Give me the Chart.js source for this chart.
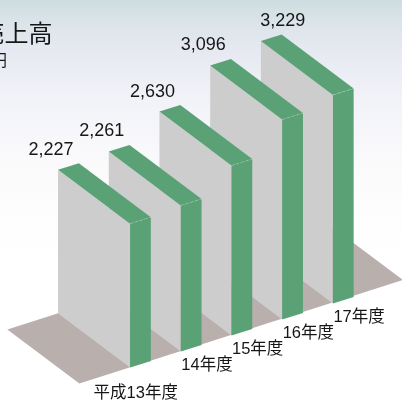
<!DOCTYPE html>
<html>
<head>
<meta charset="utf-8">
<style>
  html, body { margin: 0; padding: 0; width: 402px; height: 400px; overflow: hidden;
    background: linear-gradient(to bottom, #cddde0 0px, #dbe4e9 22px, #e6e9f1 50px, #f1f2f8 95px, #f9f9fb 150px, #fdfdfd 205px, #ffffff 260px); }
  canvas { display: block; }
</style>
<script src="https://cdn.jsdelivr.net/npm/chart.js@4"></script>
</head>
<body>
<canvas id="c" width="402" height="400"></canvas>
<script>
const categories = ['平成13年度', '14年度', '15年度', '16年度', '17年度'];
const sales = [2227, 2261, 2630, 3096, 3229];
const valueLabels = ['2,227', '2,261', '2,630', '3,096', '3,229'];
const titleText = '売上高';
const unitText = '億円';

const GREEN = '#5aa176';
const SIDE = '#cecdcd';
const FLOOR = '#b9afad';
const INK = '#161616';
const LATIN = '"Liberation Sans", "Noto Sans CJK JP", sans-serif';

// Oblique projection: a wall runs back by DEPTH, and each category also
// climbs by RISE pixels along the floor.
const DEPTH = { x: -72, y: -54 };
const RISE = 16;
const WIDTH_RISE = 6.5;

function poly(ctx, pts, fill) {
  ctx.beginPath();
  pts.forEach((p, i) => i ? ctx.lineTo(p.x, p.y) : ctx.moveTo(p.x, p.y));
  ctx.closePath();
  ctx.fillStyle = fill;
  ctx.fill();
}

class Wall3DController extends Chart.BarController {
  draw() {
    const ctx = this.chart.ctx;
    const bars = this.getMeta().data;
    const lift = i => i * RISE;
    const corner = (bar, i, side) => ({
      x: bar.x + side * bar.width / 2,
      y: bar.base - lift(i) - (side > 0 ? WIDTH_RISE : 0)
    });

    // Floor slab under all the walls
    const n = bars.length - 1;
    const a = corner(bars[0], 0, -1);
    const b = corner(bars[n], n, 1);
    const stepX = bars[1].x - bars[0].x;
    const run = { x: stepX, y: -RISE };
    const front0 = { x: a.x - run.x, y: a.y - run.y };
    const frontN = { x: b.x + run.x * 0.97, y: b.y + run.y * 1.07 };
    poly(ctx, [
      front0,
      { x: front0.x + DEPTH.x, y: front0.y + DEPTH.y },
      { x: frontN.x + DEPTH.x, y: frontN.y + DEPTH.y },
      frontN
    ], FLOOR);

    // Nearest wall is the leftmost, so paint from the right
    for (let i = n; i >= 0; i--) {
      const bar = bars[i];
      const h = bar.base - bar.y;
      const fl = corner(bar, i, -1);
      const fr = corner(bar, i, 1);
      const tl = { x: fl.x, y: fl.y - h };
      const tr = { x: fr.x, y: fr.y - h };
      const back = p => ({ x: p.x + DEPTH.x, y: p.y + DEPTH.y });

      poly(ctx, [fl, tl, back(tl), back(fl)], SIDE);
      poly(ctx, [fl, fr, tr, tl], GREEN);
      poly(ctx, [tl, tr, back(tr), back(tl)], GREEN);

      ctx.save();
      ctx.strokeStyle = 'rgba(255,255,255,0.35)';
      ctx.lineWidth = 0.7;
      ctx.setLineDash([3, 2]);
      ctx.beginPath();
      ctx.moveTo(tl.x, tl.y);
      ctx.lineTo(tr.x, tr.y);
      ctx.stroke();
      ctx.restore();
    }
  }
}
Wall3DController.id = 'wall3d';
Wall3DController.defaults = Chart.BarController.defaults;
Chart.register(Wall3DController);

const wallText = {
  id: 'wallText',
  afterDatasetsDraw(chart) {
    const ctx = chart.ctx;
    const bars = chart.getDatasetMeta(0).data;
    const n = bars.length - 1;
    ctx.save();
    ctx.fillStyle = INK;
    ctx.textBaseline = 'alphabetic';

    // Value above the back corner of each wall
    ctx.textAlign = 'center';
    ctx.font = '18px ' + LATIN;
    bars.forEach((bar, i) => {
      const left = bar.x - bar.width / 2 + DEPTH.x;
      const top = bar.y - i * RISE + DEPTH.y;
      const dx = i === n ? 22 : -7;
      ctx.fillText(valueLabels[i], left + dx, top - 15);
    });

    // Category names step along the floor edge
    ctx.textAlign = 'right';
    ctx.font = '16.5px ' + LATIN;
    bars.forEach((bar, i) => {
      const longName = i === 0;
      const x = bar.x + (longName ? 37.5 : 41.5);
      const y = bar.base - i * RISE + (longName ? 30 : 18);
      ctx.fillText(chart.data.labels[i], x, y);
    });

    // Heading, flush against the left edge
    ctx.textAlign = 'right';
    ctx.font = '24px "Noto Sans CJK JP", sans-serif';
    ctx.fillText(titleText, 52.5, 42);
    ctx.font = '15.5px "Noto Sans CJK JP", sans-serif';
    ctx.fillText(unitText, 7, 66);
    ctx.restore();
  }
};

new Chart(document.getElementById('c'), {
  type: 'wall3d',
  data: {
    labels: categories,
    datasets: [{
      data: sales,
      clip: false,
      categoryPercentage: 1,
      barPercentage: 0.41,
      backgroundColor: GREEN
    }]
  },
  options: {
    responsive: false,
    animation: false,
    events: [],
    layout: { padding: { left: 115.1, right: 33.4, top: 141.4, bottom: 32.5 } },
    plugins: { legend: { display: false }, tooltip: { enabled: false } },
    scales: {
      x: { display: false, offset: true, grid: { display: false } },
      y: { display: false, min: 0, max: 3500, grid: { display: false } }
    }
  },
  plugins: [wallText]
});
</script>
</body>
</html>
